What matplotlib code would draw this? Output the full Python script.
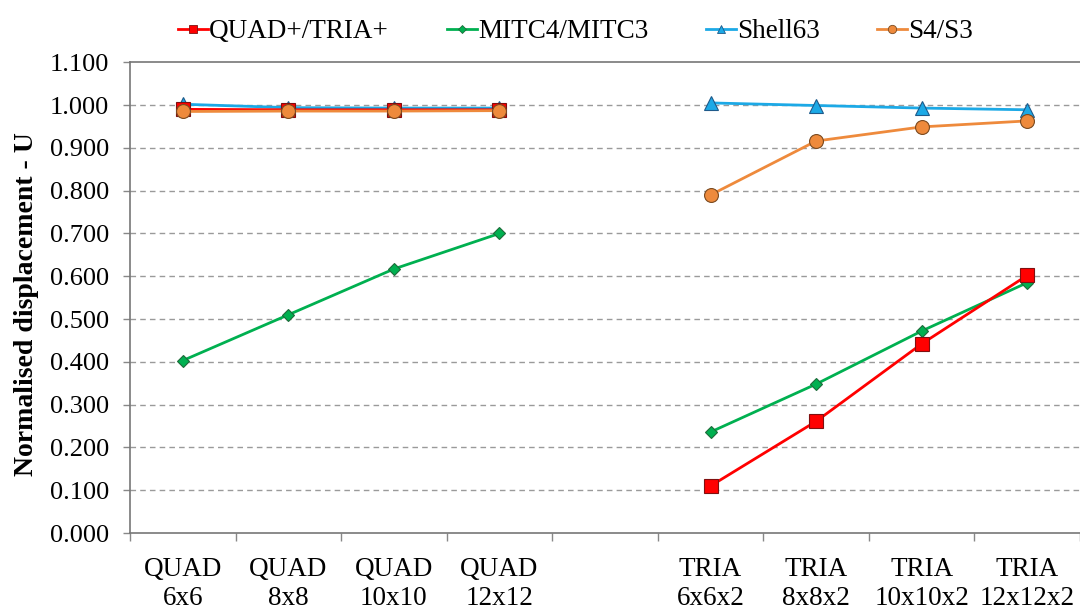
import numpy as np
import matplotlib.pyplot as plt
from matplotlib.lines import Line2D

plt.rcParams['font.family'] = ['Liberation Serif', 'DejaVu Serif']

# mesh categories (blank slot between QUAD and TRIA groups)
categories = ['QUAD\n6x6', 'QUAD\n8x8', 'QUAD\n10x10', 'QUAD\n12x12', '',
              'TRIA\n6x6x2', 'TRIA\n8x8x2', 'TRIA\n10x10x2', 'TRIA\n12x12x2']

nan = np.nan
quad_tria_plus = [0.990, 0.989, 0.989, 0.989, nan, 0.110, 0.261, 0.442, 0.602]
mitc = [0.403, 0.510, 0.617, 0.700, nan, 0.236, 0.348, 0.472, 0.585]
shell63 = [1.002, 0.994, 0.993, 0.993, nan, 1.005, 0.999, 0.993, 0.989]
s4s3 = [0.985, 0.986, 0.986, 0.987, nan, 0.790, 0.916, 0.949, 0.963]

yticks = np.arange(0, 1.101, 0.1)

fig = plt.figure(figsize=(10.8, 6.1), dpi=100)
ax = fig.add_axes([0.1204, 0.1262, 0.8796, 0.7717])

x = np.arange(len(categories))

styles = [
    (quad_tria_plus, 'QUAD+/TRIA+', '#FF0000', '#7F1010', 's', 9.5, 4),
    (mitc, 'MITC4/MITC3', '#00B050', '#1E6B3A', 'D', 6.5, 3),
    (shell63, 'Shell63', '#1CA9E6', '#1F5A8A', '^', 10, 3),
    (s4s3, 'S4/S3', '#EE8A3C', '#7A4A20', 'o', 10, 5),
]

handles = []
for vals, name, col, edge, mk, ms, z in styles:
    ax.plot(x, vals, color=col, lw=2, marker=mk, ms=ms, mfc=col, mec=edge,
            mew=0.8, zorder=z)
    handles.append(Line2D([], [], color=col, lw=2, marker=mk, ms=ms * 0.6,
                          mfc=col, mec=edge, mew=0.6, label=name))

ax.set_xlim(-0.5, len(categories) - 0.5)
ax.set_ylim(0, 1.1)

ax.set_xticks(x)
ax.set_xticklabels(categories, fontsize=19.5, linespacing=1.25)
ax.tick_params(axis='x', which='major', length=0, pad=17)
ax.set_xticks(np.arange(-0.5, len(categories), 1.0), minor=True)
ax.tick_params(axis='x', which='minor', length=6, width=1, color='#888888',
               direction='out')

ax.set_yticks(yticks)
ax.set_yticklabels(['%.3f' % v for v in yticks], fontsize=19)
ax.tick_params(axis='y', length=5, width=1, color='#888888', direction='out', pad=10)

for v in yticks[1:-1]:
    ax.axhline(v, color='#9A9A9A', lw=1, ls=(0, (4, 3)), zorder=1)

for s in ['left', 'bottom', 'top']:
    ax.spines[s].set_color('#777777')
    ax.spines[s].set_linewidth(1.2)
ax.spines['right'].set_visible(False)

ax.set_ylabel('Normalised displacement - U', fontsize=20, fontweight='bold')
ax.yaxis.set_label_coords(-0.096, 0.487)

fig.legend(handles=handles, loc='center', bbox_to_anchor=(0.533, 0.948), ncol=4,
           frameon=False, fontsize=19.5, handlelength=1.1, handletextpad=0.05,
           columnspacing=2.13)

fig.savefig('out.png', dpi=100)
